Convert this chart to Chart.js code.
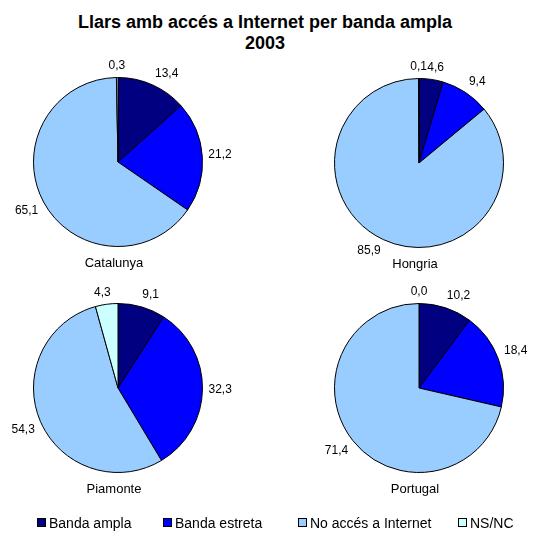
<!DOCTYPE html>
<html>
<head>
<meta charset="utf-8">
<script src="https://cdn.jsdelivr.net/npm/chart.js@4/dist/chart.umd.min.js"></script>
<style>
  body { margin: 0; width: 533px; height: 534px; overflow: hidden; background: #fff; position: relative;
         font-family: "Liberation Sans", Arial, sans-serif; }
  .title { position: absolute; left: 0; width: 530px; top: 12px; text-align: center;
           font-weight: bold; font-size: 18px; line-height: 21px; color: #000; }
  canvas { position: absolute; }
  .leg { position: absolute; top: 515px; font-size: 14px; line-height: 17px; color: #000; white-space: nowrap; }
  .leg span { display: inline-block; width: 7px; height: 7px; border: 1px solid #000; margin-right: 3px; vertical-align: 1px; }
</style>
</head>
<body>
<div class="title">Llars amb accés a Internet per banda ampla<br>2003</div>
<canvas id="pie0" width="240" height="230"></canvas>
<canvas id="pie1" width="240" height="230"></canvas>
<canvas id="pie2" width="240" height="230"></canvas>
<canvas id="pie3" width="240" height="230"></canvas>
<div id="legend"></div>
<script>
// categories and values per region (percent of households)
const categories = ['Banda ampla', 'Banda estreta', 'No accés a Internet', 'NS/NC'];
const regions = ['Catalunya', 'Hongria', 'Piamonte', 'Portugal'];
const catalunya = [13.4, 21.2, 65.1, 0.3];
const hongria = [4.6, 9.4, 85.9, 0.1];
const piamonte = [9.1, 32.3, 54.3, 4.3];
const portugal = [10.2, 18.4, 71.4, 0.0];

const seriesByRegion = [catalunya, hongria, piamonte, portugal];
const sliceColors = ['#000080', '#0000FF', '#99CCFF', '#CCFFFF'];
const centers = [[118, 162], [419, 163], [118, 388], [419, 388]];
const legendX = [37, 163, 298, 458];
const FONT = '"Liberation Sans", Arial, sans-serif';

const clamp = v => Math.max(-1, Math.min(1, v));

// outside-end value labels plus the region name under each pie
const pieLabels = {
    id: 'pieLabels',
    afterDatasetsDraw(chart, args, opts) {
        const ctx = chart.ctx;
        const meta = chart.getDatasetMeta(0);
        const values = chart.data.datasets[0].data;
        ctx.save();
        ctx.fillStyle = '#000';
        ctx.font = '12px ' + FONT;
        ctx.textAlign = 'center';
        ctx.textBaseline = 'middle';
        let cx = 0, cy = 0, r = 0;
        meta.data.forEach((arc, i) => {
            const p = arc.getProps(['x', 'y', 'startAngle', 'endAngle', 'outerRadius'], true);
            cx = p.x; cy = p.y; r = p.outerRadius;
            const mid = (p.startAngle + p.endAngle) / 2;
            const text = values[i].toFixed(1).replace('.', ',');
            const w = ctx.measureText(text).width;
            const h = 12;
            const c = Math.cos(mid), s = Math.sin(mid);
            // anchor just outside the rim, then push the text box away from it
            const px = cx + c * (r + 6);
            const py = cy + s * (r + 6);
            ctx.fillText(text, px + clamp(3 * c) * w / 2, py + clamp(3 * s) * h / 2);
        });
        ctx.font = '13px ' + FONT;
        ctx.fillText(opts.name, cx - 4, cy + r + 17);
        ctx.restore();
    }
};

seriesByRegion.forEach((values, k) => {
    const canvas = document.getElementById('pie' + k);
    canvas.style.left = (centers[k][0] - 120) + 'px';
    canvas.style.top = (centers[k][1] - 110) + 'px';
    new Chart(canvas.getContext('2d'), {
        type: 'pie',
        data: {
            labels: categories,
            datasets: [{
                data: values,
                backgroundColor: sliceColors,
                borderColor: '#000',
                borderWidth: 1
            }]
        },
        options: {
            responsive: false,
            animation: false,
            layout: {
                padding: { left: 35, right: 35, top: 25, bottom: 35 }
            },
            plugins: {
                legend: { display: false },
                tooltip: { enabled: false },
                pieLabels: { name: regions[k] }
            }
        },
        plugins: [pieLabels]
    });
});

// legend row at the bottom
const legend = document.getElementById('legend');
categories.forEach((cat, i) => {
    const item = document.createElement('div');
    item.className = 'leg';
    item.style.left = legendX[i] + 'px';
    item.innerHTML = '<span style="background:' + sliceColors[i] + '"></span>' + cat;
    legend.appendChild(item);
});
</script>
</body>
</html>
